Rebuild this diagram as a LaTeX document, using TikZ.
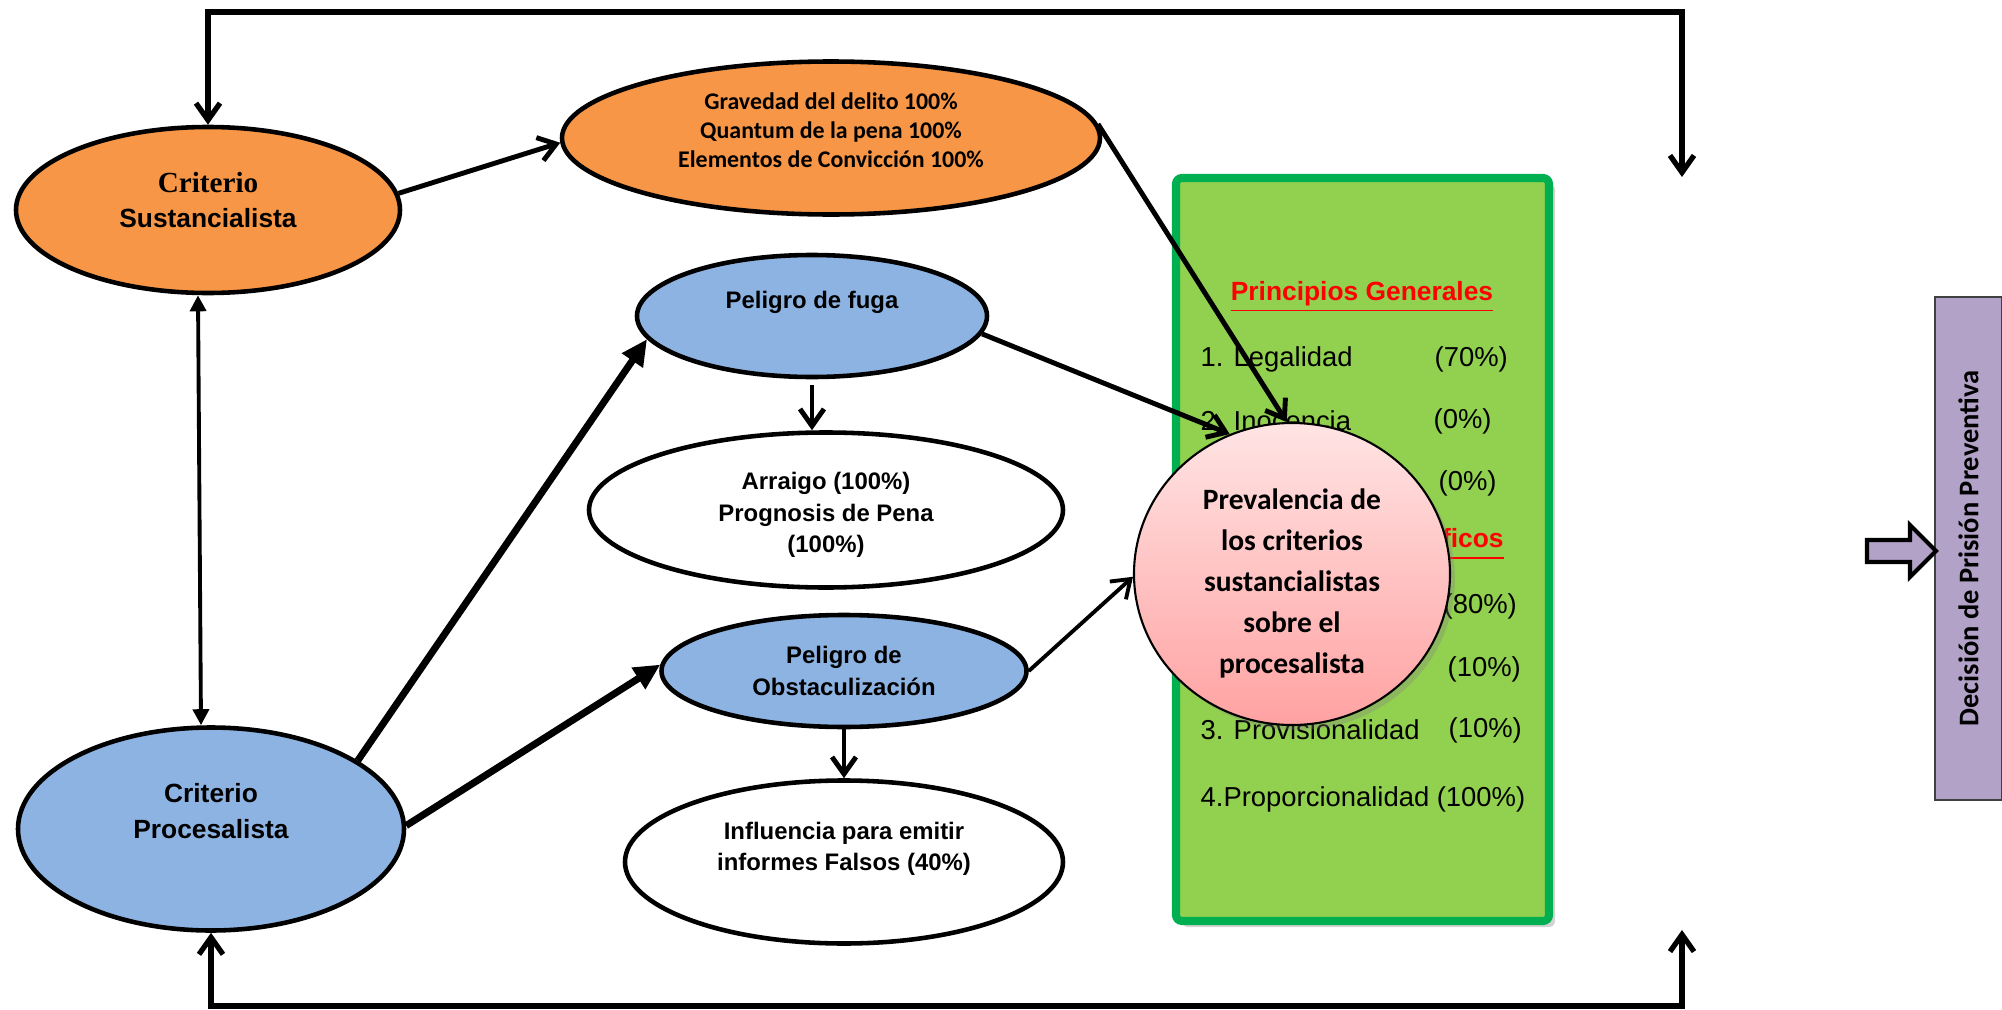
\documentclass[tikz,border=0pt]{standalone}
\usepackage{fontspec}
\setmainfont{Liberation Sans}
\newfontfamily\calibrifont{Carlito}
\newfontfamily\timesfont{Liberation Serif}
\usetikzlibrary{shapes.geometric,arrows.meta,shadows}

\definecolor{orangefill}{HTML}{F79646}
\definecolor{bluefill}{HTML}{8DB3E2}
\definecolor{greenfill}{HTML}{92D050}
\definecolor{greenline}{HTML}{00B050}
\definecolor{lilac}{HTML}{B3A2C7}
\definecolor{pinktop}{HTML}{FFE4E4}
\definecolor{pinkbottom}{HTML}{FFA2A2}

\begin{document}
\begin{tikzpicture}[
	oval/.style={ellipse,draw,line width=1.3pt,inner sep=0pt,align=center},
	arialb/.style={font=\fontsize{6.8}{9}\selectfont\bfseries},
	calib/.style={font=\calibrifont\fontsize{6.8}{8.3}\selectfont\bfseries},
	pctext/.style={anchor=west,inner sep=0pt,font=\fontsize{7.8}{9}\selectfont},
	redhead/.style={inner sep=0pt,text=red,font=\fontsize{7.5}{9}\selectfont\bfseries},
	barb/.style={line width=1.4pt,-{Straight Barb[length=1.7mm,width=2.4mm]}},
	ring/.style={line width=1.5pt,{Straight Barb[length=1.7mm,width=2.4mm]}-{Straight Barb[length=1.7mm,width=2.4mm]}},
	heavy/.style={line width=2pt,-{Triangle[length=2.6mm,width=2.4mm]}},
	twohead/.style={line width=1.1pt,{Triangle[length=1.6mm,width=1.6mm]}-{Triangle[length=1.6mm,width=1.6mm]}}
]
	\useasboundingbox (0,0) rectangle (20.02,10.09);

	\node [oval,fill=orangefill,minimum width=3.84cm,minimum height=1.66cm,font=\fontsize{7.5}{10.2}\selectfont\bfseries] (sust) at (2.08,7.99) {{\timesfont\fontsize{8.3}{10.2}\selectfont Criterio}\\Sustancialista\rule[-5.8pt]{0pt}{0pt}};
	\node [oval,fill=orangefill,calib,minimum width=5.38cm,minimum height=1.53cm] (grav) at (8.31,8.71) {Gravedad del delito 100\%\\Quantum de la pena 100\%\\Elementos de Convicción 100\%\rule[-4.5pt]{0pt}{0pt}};
	\node [oval,fill=bluefill,arialb,minimum width=3.50cm,minimum height=1.22cm] (fuga) at (8.12,6.93) {Peligro de fuga\\~};
	\node [oval,fill=white,arialb,minimum width=4.74cm,minimum height=1.55cm] (arraigo) at (8.26,4.99) {\rule{0pt}{7.8pt}Arraigo (100\%)\\Prognosis de Pena\\(100\%)};
	\node [oval,fill=bluefill,arialb,minimum width=3.65cm,minimum height=1.12cm] (obst) at (8.44,3.38) {Peligro de\\Obstaculización};
	\node [oval,fill=white,arialb,minimum width=4.38cm,minimum height=1.63cm] (infl) at (8.44,1.47) {Influencia para emitir\\informes Falsos (40\%)\\~};
	\node [oval,fill=bluefill,minimum width=3.86cm,minimum height=2.03cm,font=\fontsize{7.5}{10.2}\selectfont\bfseries] (proc) at (2.11,1.80) {Criterio\\Procesalista\\~};

	\node [draw=greenline,fill=greenfill,line width=2.3pt,rounded corners=0.6mm,minimum width=3.73cm,minimum height=7.43cm,inner sep=0pt,drop shadow={shadow xshift=0.6mm,shadow yshift=-0.6mm,opacity=0.35}] (princ) at (13.625,4.595) {};
	\node [redhead] (gen) at (13.62,7.12) {\underline{Principios Generales}};
	\node [pctext] (gen1) at (12.00,6.50) {1. Legalidad};
	\node [pctext] (gen1p) at (14.34,6.50) {(70\%)};
	\node [pctext] (gen2) at (12.00,5.88) {2. Inocencia};
	\node [pctext] (gen2p) at (14.33,5.88) {(0\%)};
	\node [pctext] (gen3p) at (14.38,5.26) {(0\%)};
	\node [redhead] (esp) at (13.63,4.65) {\underline{Principios Específicos}};
	\node [pctext] (esp1p) at (14.43,4.03) {(80\%)};
	\node [pctext] (esp2p) at (14.47,3.40) {(10\%)};
	\node [pctext] (esp3) at (12.00,2.79) {3. Provisionalidad};
	\node [pctext] (esp3p) at (14.48,2.79) {(10\%)};
	\node [pctext] (esp4) at (12.00,2.10) {4.Proporcionalidad (100\%)};

	\node [ellipse,draw,line width=0.6pt,top color=pinktop,bottom color=pinkbottom,minimum width=3.16cm,minimum height=3.02cm,inner sep=0pt,align=center,font=\calibrifont\fontsize{8.4}{11.7}\selectfont\bfseries,drop shadow={shadow xshift=0.5mm,shadow yshift=-0.5mm,opacity=0.3}] (prev) at (12.92,4.35) {\rule{0pt}{11.4pt}Prevalencia de\\los criterios\\sustancialistas\\sobre el\\procesalista};

	\node [draw=black!75,fill=lilac,line width=0.5pt,rotate=90,minimum width=5.03cm,minimum height=0.67cm,inner sep=0pt,font=\calibrifont\fontsize{8.1}{10}\selectfont\bfseries] (decision) at (19.685,4.605) {Decisión de Prisión Preventiva};
	\draw [fill=lilac,line width=1.2pt] (19.36,4.58) -- (19.10,4.84) -- (19.10,4.69) -- (18.67,4.69) -- (18.67,4.47) -- (19.10,4.47) -- (19.10,4.32) -- cycle;

	\draw [barb] (sust.5) -- (grav.181);
	\draw [twohead] ([xshift=-1mm]sust.south) -- ([xshift=-1mm]proc.north);
	\draw [heavy] (proc.25) -- (fuga.188);
	\draw [heavy] (proc.1) -- (obst.178);
	\draw [barb] ([yshift=-0.6mm]fuga.south) -- (fuga.south |- arraigo.north);
	\draw [barb] (obst.south) -- (obst.south |- infl.north);
	\draw [barb] (grav.3) -- (prev.92);
	\draw [barb] (fuga.-6) -- (prev.114);
	\draw [barb,line width=1.1pt] (obst.east) -- (prev.181);

	\coordinate (topend) at (16.82,8.32);
	\coordinate (topcorner) at (16.82,9.97);
	\coordinate (botend) at (16.82,0.79);
	\coordinate (botcorner) at (16.82,0.03);
	\draw [ring] (topend) -- (topcorner) -| (sust.north);
	\draw [ring] (botend) -- (botcorner) -| (proc.south);
\end{tikzpicture}
\end{document}
